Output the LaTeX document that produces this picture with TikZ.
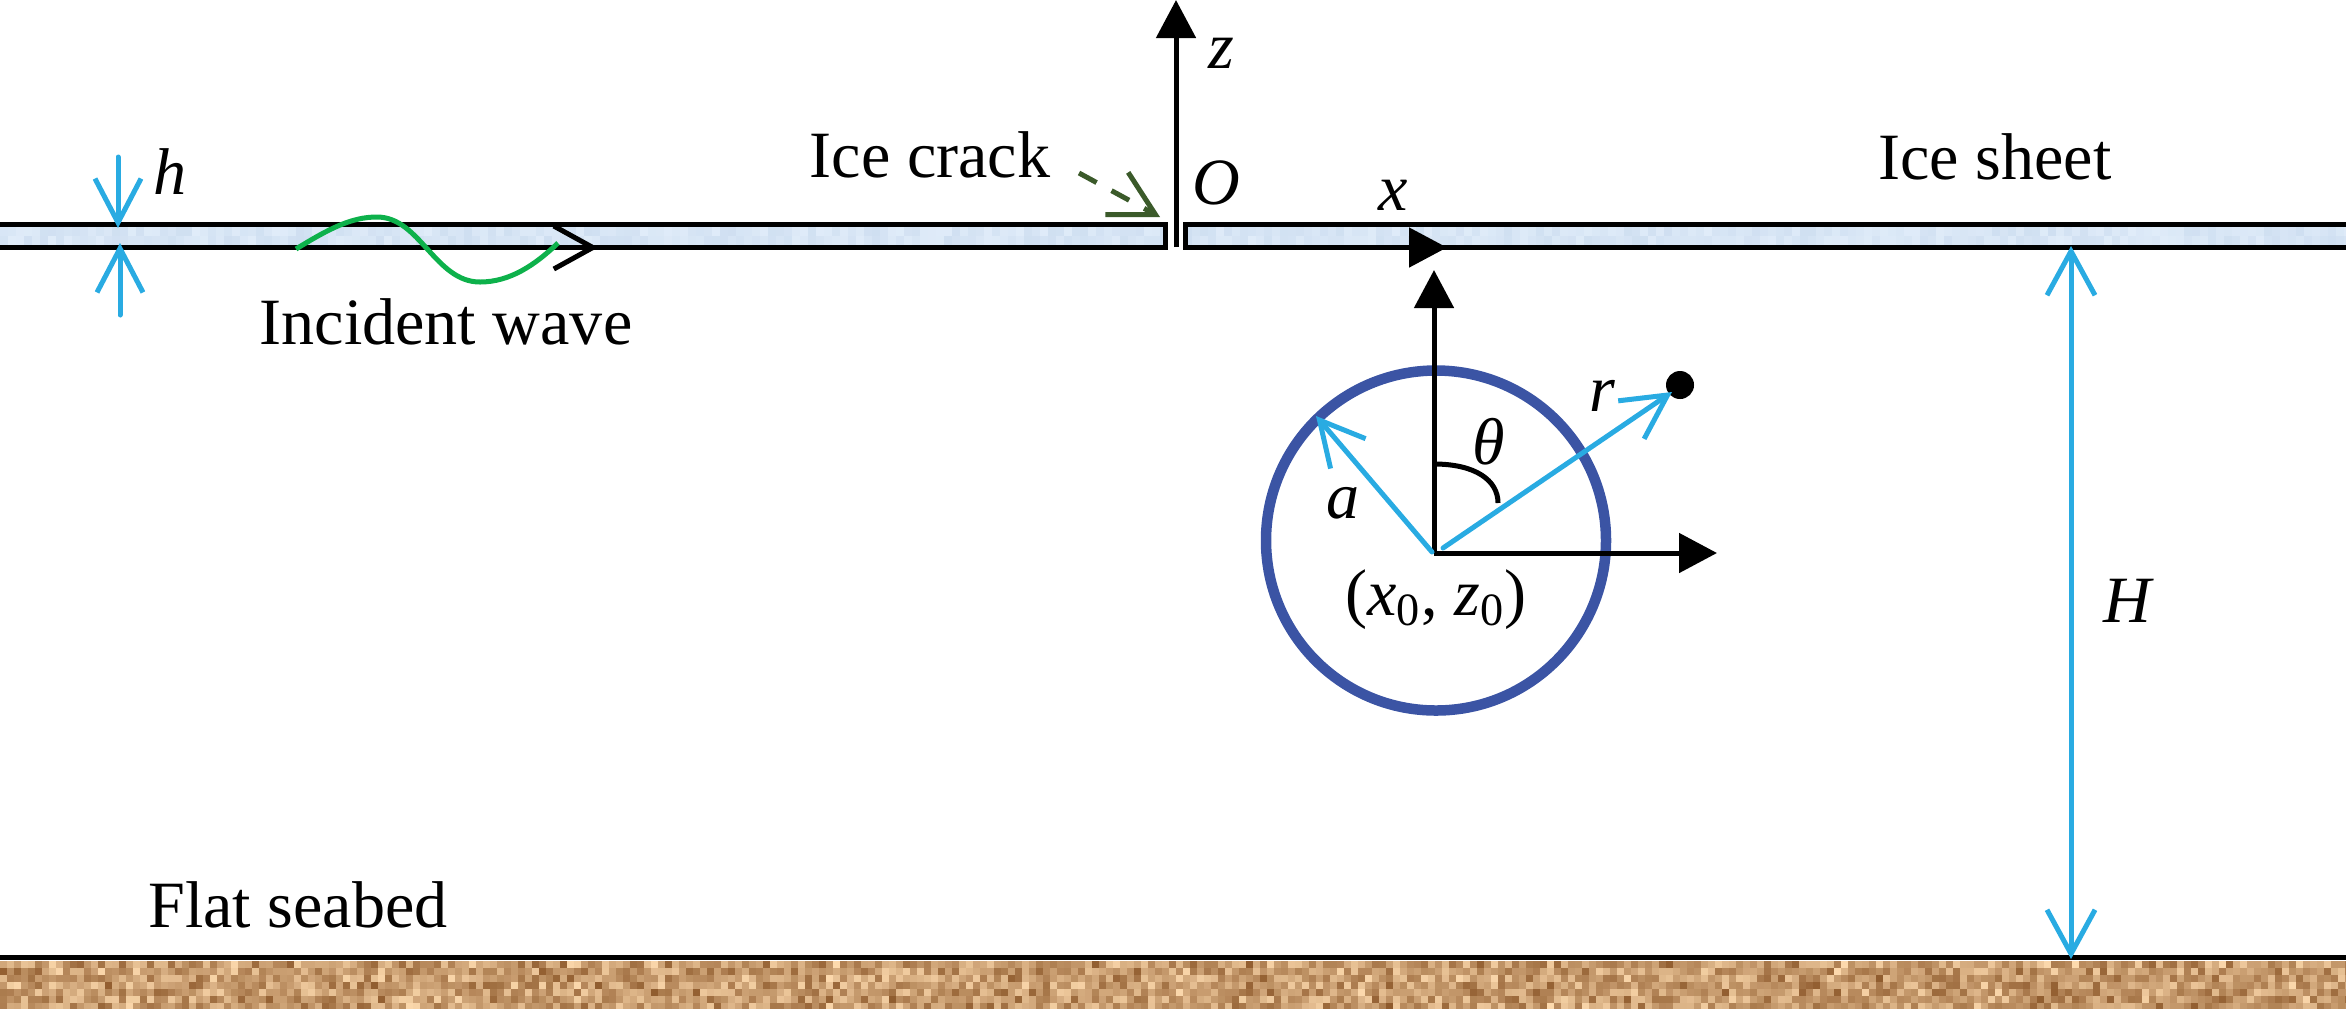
\documentclass[tikz,border=0pt]{standalone}
\usepackage{fontspec}
\setmainfont{Liberation Serif}
\usetikzlibrary{arrows.meta}
\definecolor{iceA}{HTML}{CFDFF1}
\definecolor{iceB}{HTML}{E0ECF9}
\definecolor{sandA}{HTML}{8E5A2C}
\definecolor{sandB}{HTML}{FFDCB0}
\definecolor{dimblue}{HTML}{29ABE2}
\definecolor{discblue}{HTML}{3B54A4}
\definecolor{wavegreen}{HTML}{0DB14B}
\definecolor{crackgreen}{HTML}{3B5A2A}
\tikzset{
  txt/.style={inner sep=0pt,font=\fontsize{18.8}{22}\selectfont},
  sym/.style={inner sep=0pt,font=\fontsize{18.8}{22}\selectfont\itshape},
  outline/.style={line width=0.05cm},
  axis/.style={line width=0.05cm,-{Triangle[length=0.38cm,width=0.39cm]}},
  dim/.style={dimblue,line width=0.05cm,line cap=round,-{Straight Barb[length=0.44cm,width=0.46cm]}},
}
\begin{document}
\begin{tikzpicture}[x=0.01cm,y=-0.01cm]
      \useasboundingbox (0,0) rectangle (2346,1008);
      \pgfmathsetseed{11}
      \foreach \i in {0,...,335} \foreach \j in {0,...,6} {
         \pgfmathrandominteger{\ma}{0}{100}
         \pgfmathrandominteger{\mb}{0}{100}
         \pgfmathtruncatemacro{\m}{(\ma+\mb)/2}
         \fill[sandB!\m!sandA] (\i*7,961+\j*7) rectangle ++(7.3,7.3);
      }
      \fill[iceA] (0,225) rectangle (1165,247);
      \fill[iceA] (1185,225) rectangle (2346,247);
      \foreach \i in {0,...,144,149,150,...,293} \foreach \j in {0,1} {
         \pgfmathrandominteger{\m}{0}{100}
         \fill[iceB!\m!iceA] (\i*8,227+\j*9) rectangle ++(8,9);
      }
      \coordinate (iceLa) at (0,224.5);
      \coordinate (iceLb) at (1165,224.5);
      \coordinate (iceLc) at (1165,247.5);
      \coordinate (iceLd) at (0,247.5);
      \coordinate (iceRa) at (2346,224.5);
      \coordinate (iceRb) at (1185,224.5);
      \coordinate (iceRc) at (1185,247.5);
      \coordinate (iceRd) at (2346,247.5);
      \draw[outline] (iceLa)--(iceLb)--(iceLc)--(iceLd);
      \draw[outline] (iceRa)--(iceRb)--(iceRc)--(iceRd);
      \coordinate (bedL) at (0,957);
      \coordinate (bedR) at (2346,957);
      \draw[outline] (bedL)--(bedR);
      % global axes
      \coordinate (zBase) at (1176,247);
      \coordinate (zTip) at (1176,0);
      \coordinate (xBase) at (1400,247.5);
      \coordinate (xTip) at (1447,247.5);
      \draw[axis] (zBase)--(zTip);
      \draw[axis] (xBase)--(xTip);
      \node[sym] (labz) at (1221,53) {z};
      \node[sym] (labO) at (1216,183) {O};
      \node[sym] (labx) at (1393,195) {x};
      % thickness
      \coordinate (hTopA) at (118,157);
      \coordinate (hTopB) at (118,228);
      \coordinate (hBotA) at (120,315);
      \coordinate (hBotB) at (120,243);
      \draw[dim] (hTopA)--(hTopB);
      \draw[dim] (hBotA)--(hBotB);
      \node[sym] (labh) at (170,172) {h};
      % incident wave
      \coordinate (waveA) at (296,249);
      \coordinate (waveB) at (558,243);
      \coordinate (waveTip) at (598,247.5);
      \coordinate (waveBack) at (560,247.5);
      \draw[line width=0.05cm,line cap=round,-{Straight Barb[length=0.39cm,width=0.43cm]}] (waveBack)--(waveTip);
      \draw[wavegreen,line width=0.05cm] (waveA) .. controls (330,228) and (352,217) .. (377,217) .. controls (420,217) and (435,282) .. (480,282) .. controls (510,282) and (535,265) .. (waveB);
      \node[txt] (labwave) at (446,322) {Incident wave};
      % crack
      \coordinate (crackA) at (1079,173);
      \coordinate (crackB) at (1160,217);
      \draw[crackgreen,line width=0.05cm,dash pattern=on 0.2cm off 0.17cm,-{Straight Barb[length=0.44cm,width=0.48cm]}] (crackA)--(crackB);
      \node[txt] (labcrack) at (930,155) {Ice crack};
      \node[txt] (labsheet) at (1995,157) {Ice sheet};
      \node[txt] (labbed) at (298,905) {Flat seabed};
      % cylinder
      \coordinate (cyl) at (1436,540.5);
      \draw[discblue,line width=0.105cm] (cyl) circle (170);
      \coordinate (org) at (1434,553);
      \coordinate (upTip) at (1434,270);
      \coordinate (rightTip) at (1717,553);
      \draw[axis] (org)--(upTip);
      \draw[axis] (org)--(rightTip);
      \coordinate (thA) at (1434,464);
      \coordinate (thB) at (1498,503);
      \draw[line width=0.05cm] (thA) .. controls (1475,464) and (1498,480) .. (thB);
      \node[sym] (labth) at (1489,442) {θ};
      \coordinate (aBase) at (1432,552);
      \coordinate (aTip) at (1316,416);
      \draw[dim] (aBase)--(aTip);
      \node[sym] (laba) at (1343,503) {a};
      \node[circle,fill=black,minimum size=0.28cm,inner sep=0pt] (pnt) at (1680,385) {};
      \coordinate (rBase) at (1443,548);
      \coordinate (rTip) at (1672,392);
      \draw[dim] (rBase)--(rTip);
      \node[sym] (labr) at (1602,396) {r};
      \node[txt] (labcentre) at (1436,600) {(\textit{x}\textsubscript{0}, \textit{z}\textsubscript{0})};
      % depth
      \coordinate (depthA) at (2071,246);
      \coordinate (depthB) at (2071,959);
      \draw[dim,{Straight Barb[length=0.44cm,width=0.48cm]}-{Straight Barb[length=0.44cm,width=0.48cm]}] (depthA)--(depthB);
      \node[sym] (labH) at (2127,601) {H};
\end{tikzpicture}
\end{document}
